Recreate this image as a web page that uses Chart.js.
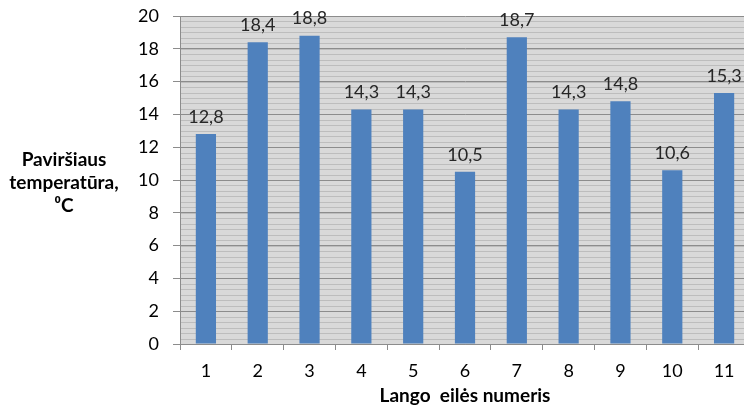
<!DOCTYPE html>
<html>
<head>
<meta charset="utf-8">
<script src="https://cdn.jsdelivr.net/npm/chart.js@4/dist/chart.umd.min.js"></script>
<style>
  html, body { margin: 0; padding: 0; background: #fff; overflow: hidden; }
  #wrap { width: 750px; height: 407px; }
</style>
</head>
<body>
<div id="wrap"><canvas id="chart1"></canvas></div>
<script>
// window numbers and measured surface temperature
var langai = ['1', '2', '3', '4', '5', '6', '7', '8', '9', '10', '11'];
var temperaturos = [12.8, 18.4, 18.8, 14.3, 14.3, 10.5, 18.7, 14.3, 14.8, 10.6, 15.3];
var yTitleLines = ['Paviršiaus', 'temperatūra,', '⁰C'];
var xTitle = 'Lango  eilės numeris';

var fontName = 'Lato, "Open Sans", sans-serif';

// grey striped plot background, like the old office charts
var stripedBg = {
    id: 'stripedBg',
    beforeDraw: function(chart) {
        var ctx = chart.ctx, a = chart.chartArea;
        var y = chart.scales.y;
        ctx.save();
        ctx.fillStyle = '#d9d9d9';
        ctx.fillRect(a.left, a.top, a.right - a.left, a.bottom - a.top);
        var step = (y.getPixelForValue(0) - y.getPixelForValue(2)) / 6;
        ctx.strokeStyle = '#bdbdbd';
        ctx.lineWidth = 1;
        for (var p = a.bottom; p > a.top; p -= step) {
            ctx.beginPath();
            ctx.moveTo(a.left, Math.round(p) + 0.5);
            ctx.lineTo(a.right, Math.round(p) + 0.5);
            ctx.stroke();
        }
        ctx.restore();
    }
};

// value labels above bars, decimal comma
var barLabels = {
    id: 'barLabels',
    afterDatasetsDraw: function(chart) {
        var ctx = chart.ctx;
        var meta = chart.getDatasetMeta(0);
        ctx.save();
        ctx.font = '18px ' + fontName;
        ctx.fillStyle = '#262626';
        ctx.textAlign = 'center';
        ctx.textBaseline = 'bottom';
        meta.data.forEach(function(bar, i) {
            var txt = temperaturos[i].toFixed(1).replace('.', ',');
            ctx.fillText(txt, bar.x, bar.y - 8);
        });
        ctx.restore();
    }
};

// horizontal y axis title on the left
var yTitle = {
    id: 'yTitle',
    afterDraw: function(chart) {
        var ctx = chart.ctx;
        ctx.save();
        ctx.font = 'bold 19px ' + fontName;
        ctx.fillStyle = '#000';
        ctx.textAlign = 'center';
        ctx.textBaseline = 'middle';
        for (var i = 0; i < yTitleLines.length; i++) {
            ctx.fillText(yTitleLines[i], 64, 160 + i * 23);
        }
        ctx.restore();
    }
};

var ctx = document.getElementById('chart1');
var chart = new Chart(ctx, {
    type: 'bar',
    data: {
        labels: langai,
        datasets: [{
            data: temperaturos,
            backgroundColor: '#4f81bd',
            borderWidth: 0,
            barPercentage: 0.39,
            categoryPercentage: 1.0
        }]
    },
    options: {
        animation: false,
        responsive: true,
        maintainAspectRatio: false,
        layout: { padding: 0 },
        plugins: { legend: { display: false }, tooltip: { enabled: false } },
        scales: {
            y: {
                min: 0, max: 20,
                afterFit: function(s) {
                    s.width = 180;
                    s.paddingTop = 16;
                    s.paddingBottom = 0;
                },
                border: { color: '#8c8c8c', width: 1 },
                grid: { color: '#8c8c8c', lineWidth: 1, tickLength: 7, drawTicks: true },
                ticks: { stepSize: 2, padding: 14, color: '#000', font: { family: fontName, size: 18 } }
            },
            x: {
                afterFit: function(s) { s.height = 63; },
                border: { color: '#8c8c8c', width: 1 },
                grid: { offset: true, drawOnChartArea: false, drawTicks: true, tickLength: 6, color: '#8c8c8c' },
                ticks: { padding: 10, color: '#000', font: { family: fontName, size: 18 } },
                title: { display: true, text: xTitle, color: '#000', padding: { top: 2, bottom: 0 }, font: { family: fontName, size: 19, weight: 'bold' } }
            }
        }
    },
    plugins: [stripedBg, barLabels, yTitle]
});
</script>
</body>
</html>
